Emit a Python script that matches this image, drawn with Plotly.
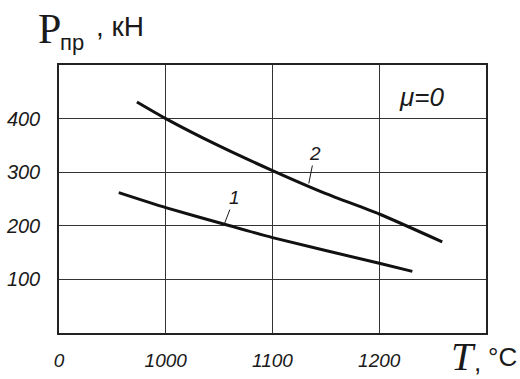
import plotly.graph_objects as go

# Data
curve1_T = [956, 1000, 1060, 1100, 1200, 1231]
curve1_P = [262, 234, 200, 178, 130, 115]
curve2_T = [973, 1000, 1050, 1100, 1150, 1200, 1259]
curve2_P = [431, 400, 349, 303, 260, 222, 170]

x_tickvals = [900, 1000, 1100, 1200]
x_ticktext = ["0", "1000", "1100", "1200"]
y_tickvals = [100, 200, 300, 400]
y_ticktext = ["100", "200", "300", "400"]

label1_point = (1055, 204)
label2_point = (1134, 279)
mu_pos = (1240, 440)

W, H = 520, 379
ML, MR, MT, MB = 59, 34, 65, 46
PW, PH = W - ML - MR, H - MT - MB


def px(x):
    return (x - ML) / PW


def py(y):
    return (H - MB - y) / PH


ink = "#1a1a1a"
xtick_font = dict(family="Liberation Sans", size=19, color=ink, style="italic")
ytick_font = dict(family="Liberation Sans", size=20, color=ink, style="italic")

fig = go.Figure()
for T, P in [(curve1_T, curve1_P), (curve2_T, curve2_P)]:
    fig.add_trace(go.Scatter(x=T, y=P, mode="lines",
                             line=dict(color="#111", width=3, shape="spline", smoothing=0.6),
                             showlegend=False, hoverinfo="skip"))

fig.update_layout(
    width=W, height=H,
    margin=dict(l=ML, r=MR, t=MT, b=MB, autoexpand=False),
    paper_bgcolor="white", plot_bgcolor="white",
    xaxis=dict(range=[900, 1300], tickvals=x_tickvals, ticktext=x_ticktext,
               showgrid=True, gridcolor="#333", gridwidth=1.2,
               showline=True, linecolor="#222", linewidth=1.5, mirror=True,
               zeroline=False, ticks="", tickfont=xtick_font, ticklabelstandoff=9,
               automargin=False),
    yaxis=dict(range=[0, 500], tickvals=y_tickvals, ticktext=y_ticktext,
               showgrid=True, gridcolor="#333", gridwidth=1.2,
               showline=True, linecolor="#222", linewidth=1.5, mirror=True,
               zeroline=False, ticks="", tickfont=ytick_font, ticklabelstandoff=13,
               automargin=False),
)

ann_font = dict(family="Liberation Sans", size=19, color=ink, style="italic")
fig.add_annotation(x=label1_point[0], y=label1_point[1], text="1", showarrow=True,
                   arrowhead=0, arrowwidth=1, arrowcolor=ink, ax=10, ay=-26,
                   font=ann_font)
fig.add_annotation(x=label2_point[0], y=label2_point[1], text="2", showarrow=True,
                   arrowhead=0, arrowwidth=1, arrowcolor=ink, ax=6, ay=-30,
                   font=ann_font)
fig.add_annotation(x=mu_pos[0], y=mu_pos[1], text="μ=0", showarrow=False,
                   font=dict(family="Liberation Sans", size=26, color=ink, style="italic"))

# axis titles, built from separate pieces
def title_piece(cx, cy, text, family, size, style="normal"):
    fig.add_annotation(xref="paper", yref="paper", x=px(cx), y=py(cy),
                       xanchor="center", yanchor="middle", showarrow=False,
                       text=text, font=dict(family=family, size=size, color=ink, style=style))

title_piece(49, 29, "P", "Liberation Serif", 42)
title_piece(72, 42, "пр", "Liberation Sans", 22)
title_piece(120, 26, ", кН", "Liberation Sans", 28)
title_piece(463, 356, "T", "Liberation Serif", 40, "italic")
title_piece(477, 362, ",", "Liberation Sans", 26)
title_piece(502, 357, "°C", "Liberation Sans", 26)

fig.write_html("out.html", config={"displayModeBar": False},
               post_script="document.body.style.margin='0px';")
